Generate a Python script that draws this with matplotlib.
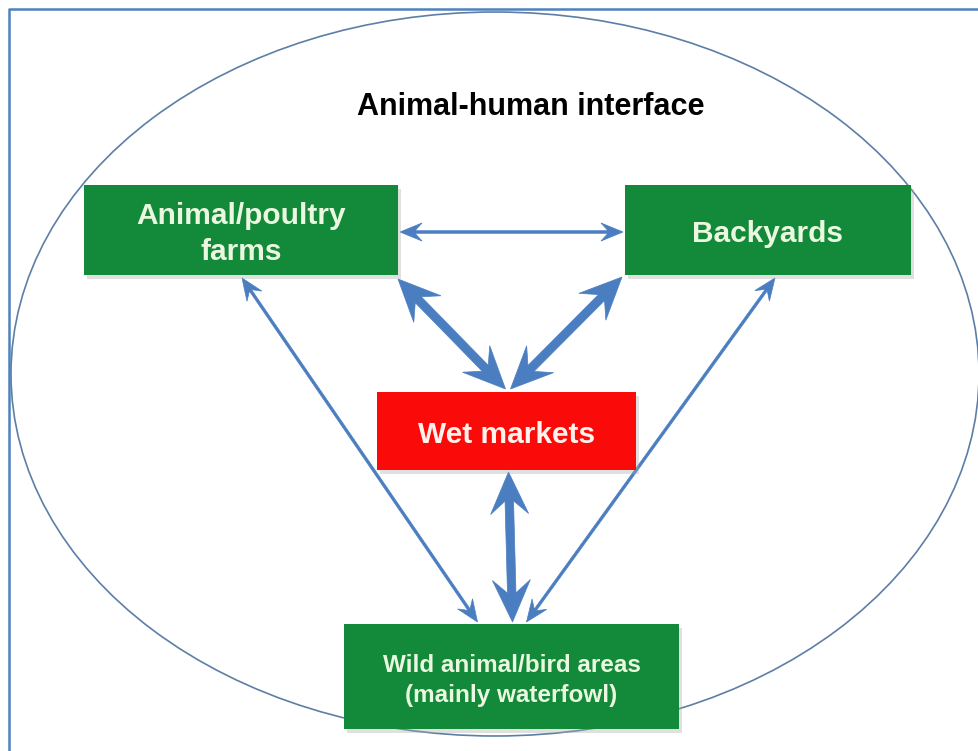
import numpy as np
import matplotlib.pyplot as plt
from matplotlib.patches import Rectangle, Ellipse, Polygon

# Nodes of the diagram
labels = ['Animal/poultry\nfarms', 'Backyards', 'Wet markets',
          'Wild animal/bird areas\n(mainly waterfowl)']
title = 'Animal-human interface'

# box geometry (pixels): left, top, right, bottom
boxes = {
    'farms': (84, 185, 398, 275),
    'back': (625, 185, 911, 275),
    'wet': (377, 392, 636, 470),
    'wild': (344, 624, 679, 729),
}
box_colors = {'farms': '#13893a', 'back': '#13893a', 'wet': '#fb0a0a', 'wild': '#13893a'}
text_colors = {'farms': '#eaf8e0', 'back': '#eaf8e0', 'wet': '#fff2ec', 'wild': '#eaf8e0'}
font_sizes = {'farms': 21.5, 'back': 21.5, 'wet': 21.5, 'wild': 17.5}
line_sp = {'farms': 1.32, 'back': 1.2, 'wet': 1.2, 'wild': 1.42}

arrow_blue = '#4a7ec0'

plt.rcParams['font.family'] = ['Liberation Sans', 'DejaVu Sans']

fig = plt.figure(figsize=(9.79, 7.51), dpi=100)
ax = fig.add_axes([0, 0, 1, 1])
ax.set_xlim(0, 979)
ax.set_ylim(751, 0)
ax.axis('off')

# outer frame (left and top edges visible)
ax.plot([9, 9, 979], [751, 9, 9], color='#4f81bd', lw=1.8, solid_capstyle='butt')

# big ellipse
ax.add_patch(Ellipse((495, 374), 968, 724, fill=False, ec='#5d7ea6', lw=1.2))


def stealth_arrow(p0, p1, w, L, H, n, color=arrow_blue):
    # double headed "stealth" arrow between tips p0 and p1
    p0 = np.array(p0, float)
    p1 = np.array(p1, float)
    u = (p1 - p0) / np.linalg.norm(p1 - p0)
    v = np.array([-u[1], u[0]])
    pts = [
        p1,
        p1 - L * u + H * v,
        p1 - (L - n) * u + w / 2 * v,
        p0 + (L - n) * u + w / 2 * v,
        p0 + L * u + H * v,
        p0,
        p0 + L * u - H * v,
        p0 + (L - n) * u - w / 2 * v,
        p1 - (L - n) * u - w / 2 * v,
        p1 - L * u - H * v,
    ]
    ax.add_patch(Polygon(pts, closed=True, fc=color, ec=color, lw=0.5, zorder=3))


def cx(k):
    return (boxes[k][0] + boxes[k][2]) / 2


def cy(k):
    return (boxes[k][1] + boxes[k][3]) / 2


# arrows between the nodes
thin = dict(w=2.6, L=22, H=9, n=7)
thick = dict(w=8.5, L=42, H=19, n=13)
# farms <-> backyards
stealth_arrow((boxes['farms'][2] + 2, cy('farms') + 2), (boxes['back'][0] - 2, cy('back') + 2), **thin)
# farms / backyards <-> wild areas
stealth_arrow((cx('farms') + 1, boxes['farms'][3] + 3), (cx('wild') - 34, boxes['wild'][1] - 2), **thin)
stealth_arrow((cx('back') + 7, boxes['back'][3] + 3), (cx('wild') + 15, boxes['wild'][1] - 2), **thin)
# farms / backyards <-> wet markets
stealth_arrow((boxes['farms'][2], boxes['farms'][3] + 4), (cx('wet') - 1, boxes['wet'][1] - 3), **thick)
stealth_arrow((boxes['back'][0] - 3, boxes['back'][3] + 2), (cx('wet') + 4, boxes['wet'][1] - 3), **thick)
# wet markets <-> wild areas
stealth_arrow((cx('wet') + 2, boxes['wet'][3] + 2), (cx('wild') + 1, boxes['wild'][1] - 2), **thick)

# boxes with a soft drop shadow
for (k, (x0, y0, x1, y1)), lab in zip(boxes.items(), labels):
    ax.add_patch(Rectangle((x0 + 3, y0 + 4), x1 - x0, y1 - y0, fc='#a8a8a8', ec='none',
                           alpha=0.35, zorder=4))
    ax.add_patch(Rectangle((x0, y0), x1 - x0, y1 - y0, fc=box_colors[k], ec='none', zorder=5))
    ax.text(cx(k), cy(k) + 4, lab, ha='center', va='center', fontsize=font_sizes[k],
            fontweight='bold', color=text_colors[k], linespacing=line_sp[k], zorder=6)

ax.text(531, 107, title, ha='center', va='center', fontsize=22, fontweight='bold',
        color='black')

fig.savefig('out.png', dpi=100)
